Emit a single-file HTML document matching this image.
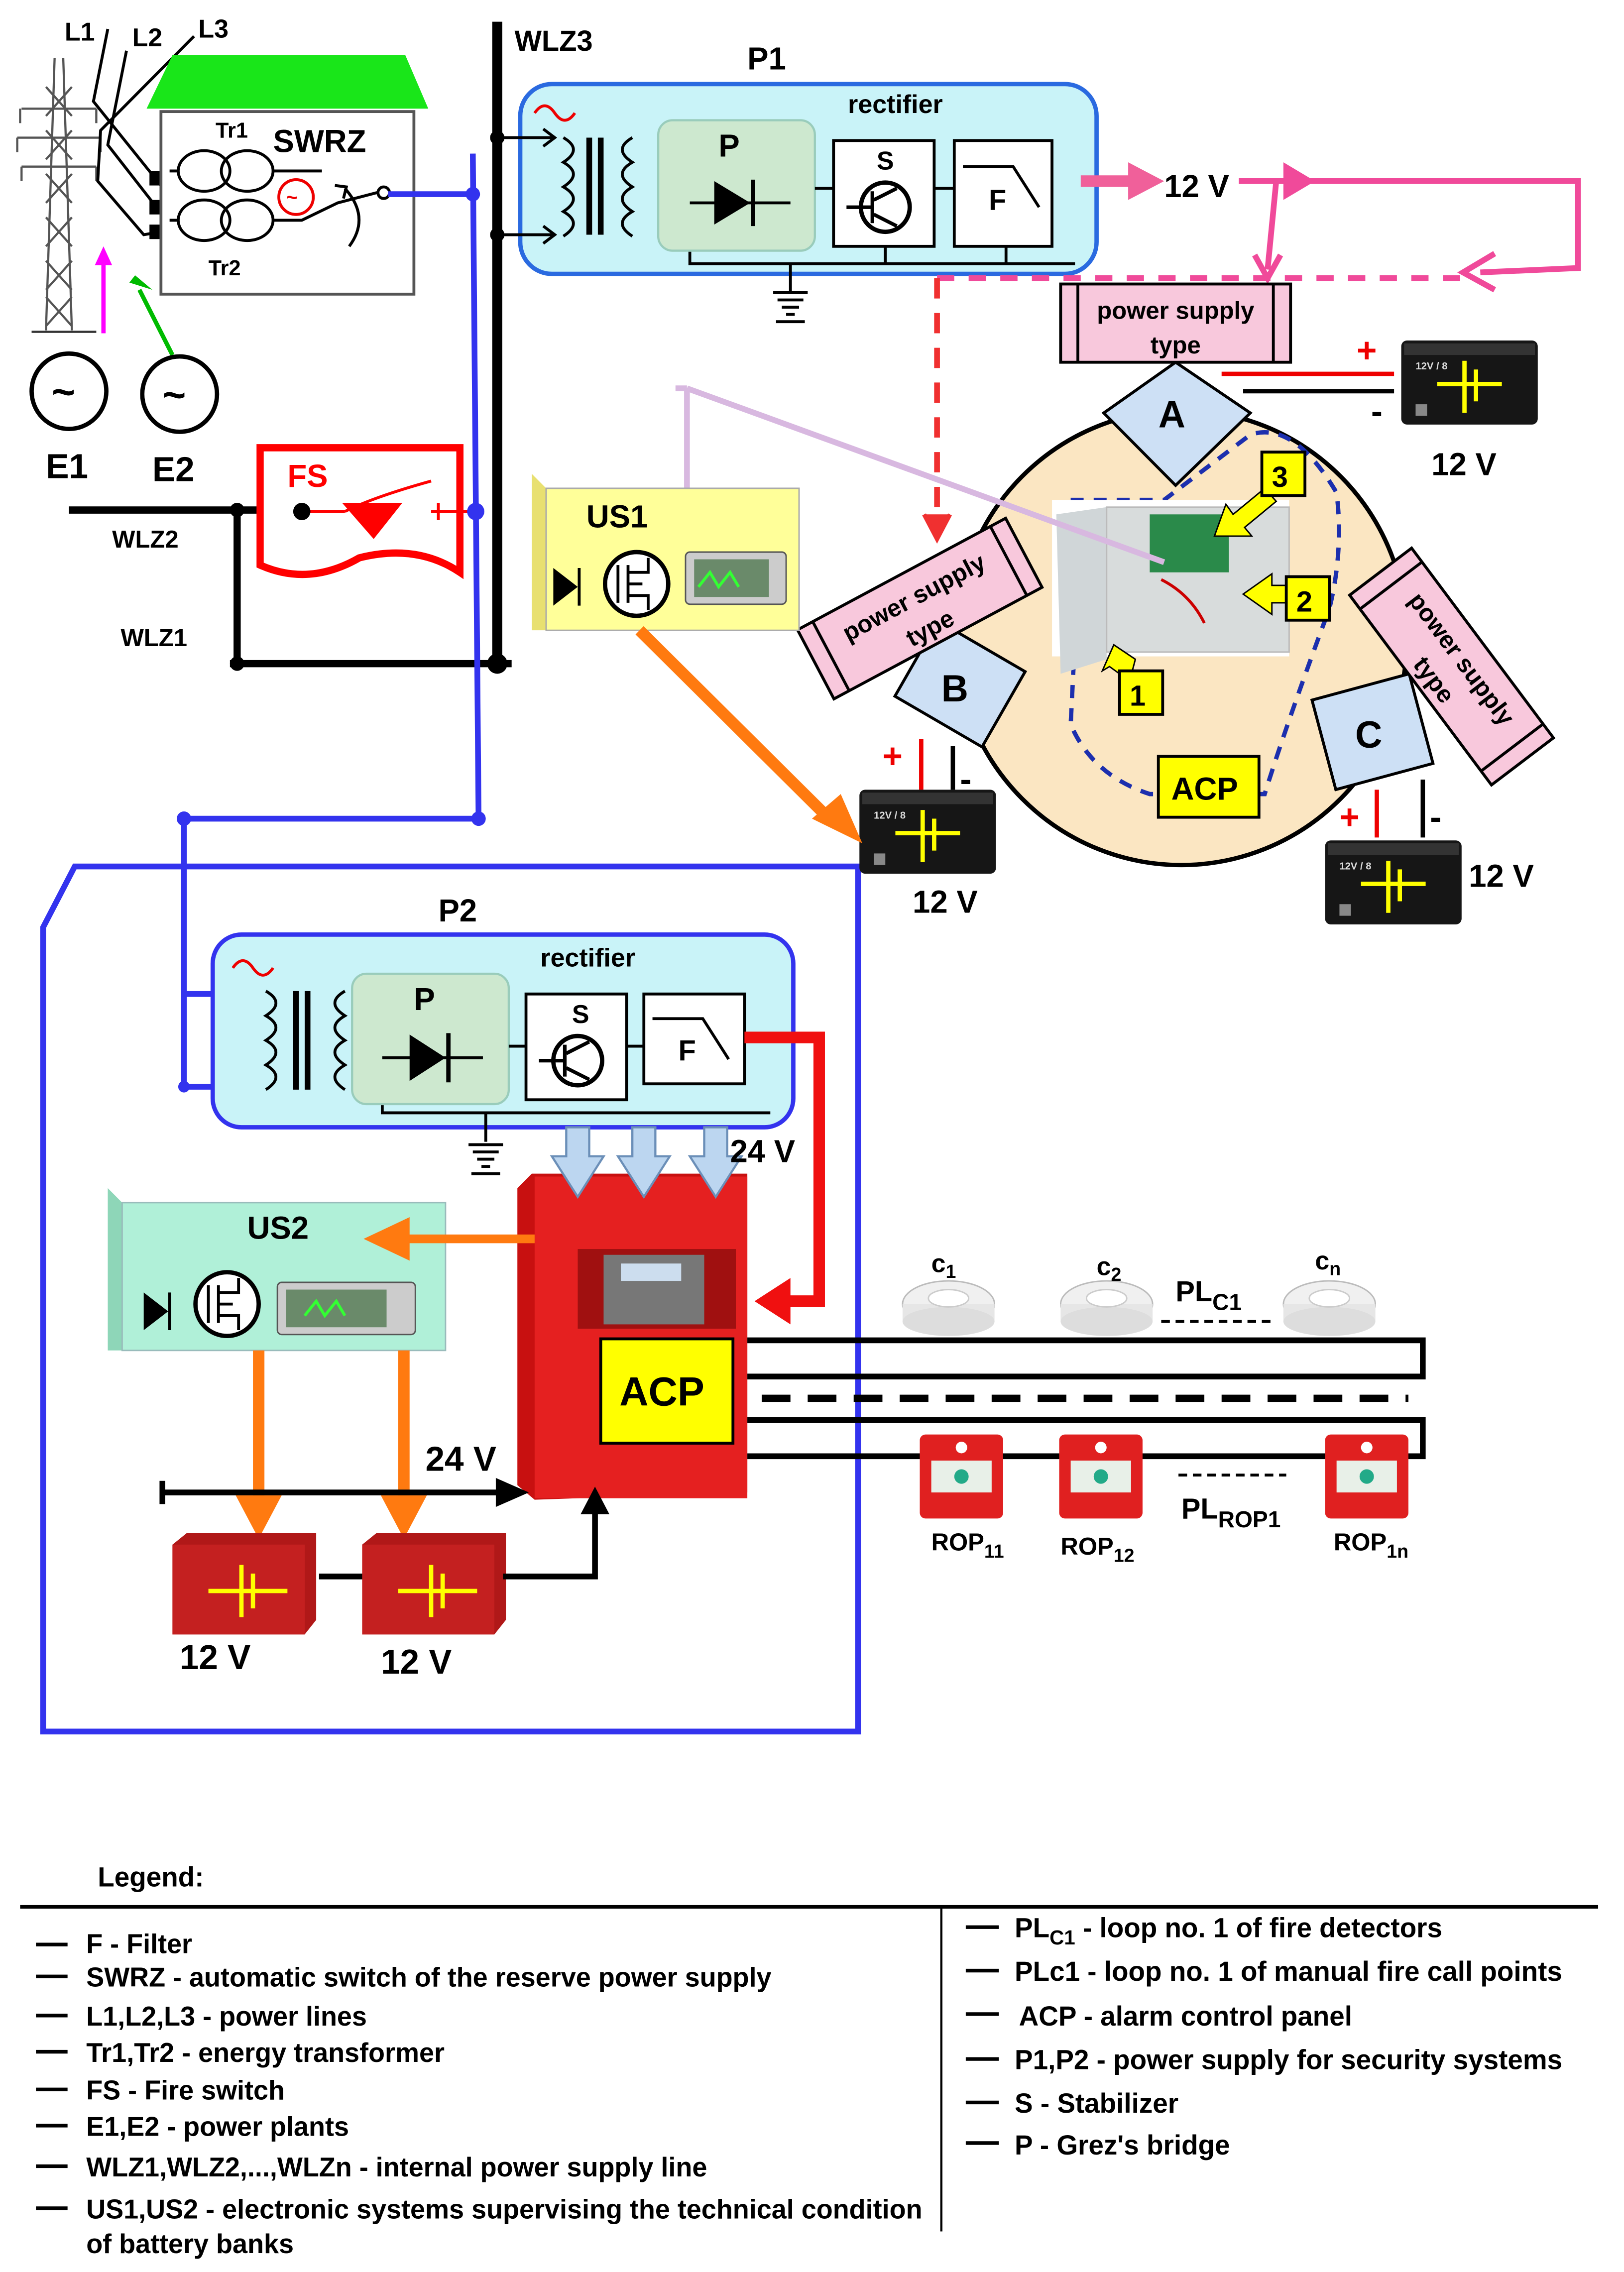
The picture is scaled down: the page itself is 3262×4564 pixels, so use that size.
<!DOCTYPE html>
<html><head><meta charset="utf-8"><style>
html,body{margin:0;padding:0;background:#fff}
svg{display:block}
text{font-family:"Liberation Sans",sans-serif;font-weight:bold}
</style></head><body>
<svg width="3262" height="4564" viewBox="0 0 1130 1568" preserveAspectRatio="none" xmlns="http://www.w3.org/2000/svg">
<defs>
<marker id="ab" markerWidth="8" markerHeight="8" refX="7" refY="4" orient="auto" markerUnits="userSpaceOnUse"><path d="M0,0 L8,4 L0,8" fill="none" stroke="#000" stroke-width="1.5"/></marker>
<g id="batt">
<rect x="0" y="0" width="95" height="58" rx="4" fill="#161616"/>
<rect x="2" y="2" width="91" height="8" fill="#333"/>
<line x1="25" y1="30" x2="70" y2="30" stroke="#ff0" stroke-width="3"/>
<line x1="44" y1="14" x2="44" y2="50" stroke="#ff0" stroke-width="3"/>
<line x1="52" y1="20" x2="52" y2="42" stroke="#ff0" stroke-width="3"/>
<text x="10" y="20" font-size="7" fill="#ddd">12V / 8</text>
<rect x="10" y="44" width="8" height="8" fill="#888"/>
</g>
<g id="rbatt">
<path d="M0,8 L10,0 L100,0 L100,60 L92,70 L0,70 Z" fill="#b01818"/>
<rect x="0" y="8" width="92" height="62" fill="#c42020"/>
<line x1="25" y1="40" x2="80" y2="40" stroke="#ff0" stroke-width="3"/>
<line x1="48" y1="22" x2="48" y2="58" stroke="#ff0" stroke-width="3"/>
<line x1="56" y1="28" x2="56" y2="52" stroke="#ff0" stroke-width="3"/>
</g>
<g id="det">
<ellipse cx="0" cy="0" rx="32" ry="16" fill="#f0f0f0" stroke="#bbb"/>
<rect x="-32" y="0" width="64" height="12" fill="#e6e6e6"/>
<ellipse cx="0" cy="12" rx="32" ry="10" fill="#ddd"/>
<ellipse cx="0" cy="-4" rx="14" ry="6" fill="#fff" stroke="#ccc"/>
</g>
<g id="rop">
<rect x="0" y="0" width="58" height="58" rx="4" fill="#e02020"/>
<rect x="8" y="18" width="42" height="22" fill="#e8f0e8"/>
<circle cx="29" cy="29" r="5" fill="#2a8"/>
<circle cx="29" cy="9" r="4" fill="#fff"/>
</g>
</defs>

<!-- pylon -->
<g stroke="#555" stroke-width="1.5" fill="none">
<line x1="38" y1="40" x2="32" y2="228"/><line x1="44" y1="40" x2="50" y2="228"/>
<path d="M32,60 L50,80 M50,60 L32,80 M32,90 L50,110 M50,90 L32,110 M32,120 L50,140 M50,120 L32,140 M32,150 L50,170 M50,150 L32,170 M32,180 L50,200 M50,180 L32,200 M32,205 L50,225 M50,205 L32,225"/>
<path d="M15,75 L67,75 M12,95 L70,95 M15,115 L67,115"/>
<path d="M14,75 v10 M67,75 v10 M12,95 v10 M70,95 v10 M15,115 v10 M67,115 v10"/>
<line x1="22" y1="229" x2="67" y2="229" stroke="#333"/>
</g>
<g stroke="#000" stroke-width="2" fill="none">
<path d="M75,20 L65,70 L112,128"/>
<path d="M88,35 L75,100 L112,147"/>
<path d="M135,25 L70,90 L68,125 L100,162 L112,160"/>
</g>
<rect x="104" y="118" width="8" height="10" fill="#000"/>
<rect x="104" y="138" width="8" height="10" fill="#000"/>
<rect x="104" y="155" width="8" height="10" fill="#000"/>
<text x="45" y="28" font-size="18" font-weight="normal">L1</text>
<text x="92" y="32" font-size="18" font-weight="normal">L2</text>
<text x="138" y="26" font-size="18" font-weight="normal">L3</text>
<path d="M102,75 L120,38 L282,38 L298,75 Z" fill="#19e619"/>
<rect x="112" y="77" width="176" height="126" fill="#fff" stroke="#555" stroke-width="2"/>
<g stroke="#000" stroke-width="2" fill="none">
<ellipse cx="142" cy="118" rx="18" ry="14"/><ellipse cx="172" cy="118" rx="18" ry="14"/>
<ellipse cx="142" cy="152" rx="18" ry="14"/><ellipse cx="172" cy="152" rx="18" ry="14"/>
<path d="M118,118 h6 M118,152 h6 M190,118 h34 M190,152 h20 L235,140 L262,133 h10"/>
<path d="M243,170 Q258,150 240,130" /><path d="M233,128 l8,1 l-2,8"/>
</g>
<circle cx="267" cy="133" r="4" fill="#fff" stroke="#000" stroke-width="2"/>
<circle cx="206" cy="136" r="12" fill="none" stroke="#e00" stroke-width="2"/>
<text x="199" y="141" font-size="14" fill="#e00">~</text>
<text x="150" y="95" font-size="15" font-weight="normal">Tr1</text>
<text x="145" y="190" font-size="15" font-weight="normal">Tr2</text>
<text x="190" y="105" font-size="22">SWRZ</text>
<path d="M72,230 L72,178" stroke="#f0f" stroke-width="3"/>
<path d="M66,183 L72,170 L78,183 Z" fill="#f0f"/>
<line x1="120" y1="245" x2="97" y2="200" stroke="#0b0" stroke-width="3"/>
<path d="M90,195 L94,190 L106,200 Z" fill="#0b0"/>
<circle cx="48" cy="270" r="26" fill="#fff" stroke="#000" stroke-width="3"/>
<circle cx="125" cy="272" r="26" fill="#fff" stroke="#000" stroke-width="3"/>
<text x="36" y="280" font-size="28" font-weight="normal">~</text>
<text x="113" y="282" font-size="28" font-weight="normal">~</text>
<text x="32" y="330" font-size="24">E1</text>
<text x="106" y="332" font-size="24">E2</text>
<line x1="48" y1="352" x2="210" y2="352" stroke="#000" stroke-width="5"/>
<line x1="165" y1="352" x2="165" y2="460" stroke="#000" stroke-width="5"/>
<line x1="160" y1="458" x2="356" y2="458" stroke="#000" stroke-width="5"/>
<circle cx="165" cy="352" r="5"/><circle cx="165" cy="458" r="5"/><circle cx="346" cy="458" r="7"/>
<text x="78" y="378" font-size="17">WLZ2</text>
<text x="84" y="446" font-size="17">WLZ1</text>
<line x1="346" y1="15" x2="346" y2="462" stroke="#000" stroke-width="7"/>
<text x="358" y="35" font-size="20">WLZ3</text>
<path d="M181,309 L320,309 L320,395 Q290,375 250,385 Q215,405 181,390 Z" fill="#fff" stroke="#f00" stroke-width="5"/>
<line x1="210" y1="353" x2="240" y2="353" stroke="#f00" stroke-width="2"/>
<circle cx="210" cy="353" r="6"/>
<path d="M238,347 L280,347 L260,372 Z" fill="#f00"/>
<path d="M240,353 Q260,343 300,332" stroke="#f00" stroke-width="2" fill="none"/>
<path d="M300,353 h30 M305,347 v12" stroke="#f00" stroke-width="2"/>
<text x="200" y="336" font-size="22" fill="#f00">FS</text>
<g stroke="#3333ee" stroke-width="4" fill="none">
<path d="M270,134 L330,134 M329,106 L333,565 L128,565 L128,750 L172,750 M128,686 L172,686"/>
<path d="M52,598 L597,598 L597,1195 L30,1195 L30,640 Z"/>
</g>
<circle cx="329" cy="134" r="5" fill="#3333ee"/><circle cx="331" cy="353" r="6" fill="#3333ee"/><circle cx="333" cy="565" r="5" fill="#3333ee"/><circle cx="128" cy="565" r="5" fill="#3333ee"/><circle cx="128" cy="750" r="4" fill="#3333ee"/>
<path d="M165,681 l8,5 l-8,5 M165,745 l8,5 l-8,5" stroke="#3333ee" stroke-width="2" fill="none"/>

<!-- P1 -->
<rect x="362" y="58" width="401" height="131" rx="22" fill="#c9f3f8" stroke="#2a6ae0" stroke-width="3"/>
<text x="520" y="48" font-size="22">P1</text>
<text x="590" y="78" font-size="18">rectifier</text>
<path d="M372,78 q7,-10 14,0 q7,10 14,0" stroke="#e00" stroke-width="2" fill="none"/>
<g stroke="#000" stroke-width="2" fill="none">
<path d="M346,95 L385,95 M346,162 L385,162"/>
<path d="M378,89 l8,6 l-8,6 M378,156 l8,6 l-8,6"/>
<path d="M392,95 q14,8 0,17 q14,8 0,17 q14,8 0,17 q14,8 0,17"/>
<path d="M440,95 q-14,8 0,17 q-14,8 0,17 q-14,8 0,17 q-14,8 0,17"/>
<path d="M480,172 v10 h268 M550,182 v20"/>
<path d="M538,202 h24 M541,207 h18 M544,212 h12 M547,217 h6 M540,222 h20"/>
</g>
<line x1="410" y1="95" x2="410" y2="162" stroke="#000" stroke-width="4"/><line x1="418" y1="95" x2="418" y2="162" stroke="#000" stroke-width="4"/>
<circle cx="346" cy="95" r="5"/><circle cx="346" cy="162" r="5"/>
<rect x="458" y="83" width="109" height="90" rx="10" fill="#cde8cf" stroke="#9cb" stroke-width="1.5"/>
<text x="500" y="108" font-size="22">P</text>
<path d="M480,140 h70" stroke="#000" stroke-width="2"/>
<path d="M497,125 L522,140 L497,155 Z" fill="#000"/><line x1="524" y1="124" x2="524" y2="156" stroke="#000" stroke-width="3"/>
<line x1="567" y1="130" x2="580" y2="130" stroke="#000" stroke-width="2"/>
<rect x="580" y="97" width="70" height="73" fill="#fff" stroke="#000" stroke-width="2"/>
<text x="610" y="117" font-size="18">S</text>
<circle cx="616" cy="143" r="17" fill="#fff" stroke="#000" stroke-width="3"/>
<path d="M607,132 v22 M607,143 h-18 M608,138 l16,-8 M608,148 l16,8" stroke="#000" stroke-width="2.5" fill="none"/>
<line x1="650" y1="130" x2="664" y2="130" stroke="#000" stroke-width="2"/>
<rect x="664" y="97" width="68" height="73" fill="#fff" stroke="#000" stroke-width="2"/>
<path d="M670,115 h35 l18,28" stroke="#000" stroke-width="2" fill="none"/>
<text x="688" y="145" font-size="20">F</text>
<path d="M616,170 v12 M700,170 v12" stroke="#000" stroke-width="2"/>
<line x1="752" y1="125" x2="790" y2="125" stroke="#f0609a" stroke-width="8"/>
<path d="M785,112 L810,125 L785,138 Z" fill="#f0609a"/>
<text x="810" y="136" font-size="22">12 V</text>
<g stroke="#f04a9a" stroke-width="4" fill="none">
<path d="M862,125 L900,125 M900,125 L1098,125 L1098,185 L1030,188 M888,125 L882,186"/>
</g>
<path d="M893,112 L915,125 L893,138 Z" fill="#f04a9a"/>
<path d="M1040,175 L1018,188 L1040,200" stroke="#f04a9a" stroke-width="4" fill="none"/>
<path d="M873,176 L882,192 L891,176" stroke="#f04a9a" stroke-width="4" fill="none"/>
<line x1="652" y1="192" x2="1020" y2="192" stroke="#f04a9a" stroke-width="4" stroke-dasharray="12,10"/>
<line x1="652" y1="192" x2="652" y2="360" stroke="#f03030" stroke-width="4" stroke-dasharray="14,10"/>
<path d="M643,355 L652,372 L661,355" stroke="#f03030" stroke-width="3" fill="#f03030"/>

<!-- circle area -->
<circle cx="822" cy="440" r="157" fill="#fbe6c2" stroke="#000" stroke-width="3"/>
<path d="M745,345 L810,345 L870,300 Q900,290 930,340 Q935,380 925,420 Q895,500 880,548 L800,548 Q760,535 745,500 L748,440 L735,420 Z" fill="none" stroke="#1c2fae" stroke-width="3" stroke-dasharray="9,7"/>
<rect x="732" y="345" width="165" height="108" fill="#fff"/>
<path d="M735,355 L770,350 L770,455 L738,465 Z" fill="#d0d6d8"/>
<rect x="770" y="350" width="127" height="100" fill="#d8dcdc" stroke="#bbb"/>
<rect x="800" y="355" width="55" height="40" fill="#2a8a4a"/>
<path d="M808,400 q20,10 30,30" stroke="#c00" stroke-width="2" fill="none"/>
<line x1="478" y1="268" x2="810" y2="388" stroke="#d8b8e0" stroke-width="4"/>
<path d="M478,268 L478,345 M478,268 L470,268" stroke="#d8b8e0" stroke-width="4" fill="none"/>
<path d="M470,340 L478,350 L486,340" stroke="#b090c0" stroke-width="2" fill="#e8d0f0"/>
<path d="M790,455 l-15,-10 l-8,18 l5,-3 l14,10 z" fill="#ff0" stroke="#000"/>
<rect x="779" y="463" width="30" height="30" fill="#ff0" stroke="#000" stroke-width="2"/><text x="786" y="487" font-size="20">1</text>
<path d="M865,410 l20,-14 v8 h10 v12 h-10 v8 z" fill="#ff0" stroke="#000"/>
<rect x="895" y="398" width="30" height="30" fill="#ff0" stroke="#000" stroke-width="2"/><text x="902" y="422" font-size="20">2</text>
<path d="M845,370 l8,-22 l5,7 l22,-18 l8,9 l-22,18 l5,6 z" fill="#ff0" stroke="#000"/>
<rect x="878" y="312" width="30" height="30" fill="#ff0" stroke="#000" stroke-width="2"/><text x="885" y="336" font-size="20">3</text>
<rect x="806" y="522" width="70" height="42" fill="#ff0" stroke="#000" stroke-width="2"/><text x="815" y="552" font-size="22">ACP</text>
<path d="M818,250 L870,285 L818,335 L768,285 Z" fill="#cde0f5" stroke="#000" stroke-width="2"/>
<text x="806" y="295" font-size="26">A</text>
<g transform="translate(668,472) rotate(30)"><rect x="-35" y="-30" width="70" height="60" fill="#cde0f5" stroke="#000" stroke-width="2"/></g>
<text x="655" y="484" font-size="26">B</text>
<g transform="translate(955,505) rotate(-15)"><rect x="-35" y="-32" width="70" height="64" fill="#cde0f5" stroke="#000" stroke-width="2"/></g>
<text x="943" y="516" font-size="26">C</text>
<g transform="translate(818,223)"><rect x="-80" y="-27" width="160" height="54" fill="#f8c8dc" stroke="#000" stroke-width="2"/><path d="M-68,-27 v54 M68,-27 v54" stroke="#000" stroke-width="2"/><text x="0" y="-3" font-size="17" font-weight="normal" text-anchor="middle">power supply</text><text x="0" y="21" font-size="17" font-weight="normal" text-anchor="middle">type</text></g>
<g transform="translate(640,420) rotate(-28)"><rect x="-82" y="-27" width="164" height="54" fill="#f8c8dc" stroke="#000" stroke-width="2"/><path d="M-70,-27 v54 M70,-27 v54" stroke="#000" stroke-width="2"/><text x="0" y="-3" font-size="17" font-weight="normal" text-anchor="middle">power supply</text><text x="0" y="21" font-size="17" font-weight="normal" text-anchor="middle">type</text></g>
<g transform="translate(1010,460) rotate(53)"><rect x="-82" y="-27" width="164" height="54" fill="#f8c8dc" stroke="#000" stroke-width="2"/><path d="M-70,-27 v54 M70,-27 v54" stroke="#000" stroke-width="2"/><text x="0" y="-3" font-size="17" font-weight="normal" text-anchor="middle">power supply</text><text x="0" y="21" font-size="17" font-weight="normal" text-anchor="middle">type</text></g>
<path d="M850,258 L970,258" stroke="#e00" stroke-width="3"/><path d="M865,270 L970,270" stroke="#000" stroke-width="3"/>
<text x="944" y="250" font-size="24" fill="#e00">+</text><text x="954" y="292" font-size="24">-</text>
<use href="#batt" x="975" y="235"/>
<text x="996" y="328" font-size="22">12 V</text>
<path d="M641,510 v35" stroke="#e00" stroke-width="3"/><path d="M663,515 v30" stroke="#000" stroke-width="3"/>
<text x="614" y="530" font-size="24" fill="#e00">+</text><text x="668" y="546" font-size="24">-</text>
<use href="#batt" x="598" y="545"/>
<text x="635" y="630" font-size="22">12 V</text>
<path d="M958,545 v33" stroke="#e00" stroke-width="3"/><path d="M990,538 v40" stroke="#000" stroke-width="3"/>
<text x="932" y="572" font-size="24" fill="#e00">+</text><text x="995" y="572" font-size="24">-</text>
<use href="#batt" x="922" y="580"/>
<text x="1022" y="612" font-size="22">12 V</text>
<!-- US1 -->
<path d="M370,327 L380,337 L556,337 L556,435 L370,435 Z" fill="#e8e070"/>
<rect x="380" y="337" width="176" height="98" fill="#ffff99" stroke="#aaa"/>
<text x="408" y="364" font-size="22">US1</text>
<path d="M385,392 L402,405 L385,418 Z" fill="#000"/><line x1="403" y1="392" x2="403" y2="418" stroke="#000" stroke-width="2"/>
<circle cx="443" cy="403" r="22" fill="#fff" stroke="#000" stroke-width="3"/>
<path d="M430,390 v26 M437,390 v26 M437,395 h14 v-10 M437,411 h14 v10 M437,403 h10" stroke="#000" stroke-width="2" fill="none"/>
<rect x="477" y="381" width="70" height="36" rx="3" fill="#ccc" stroke="#555"/>
<rect x="483" y="386" width="52" height="26" fill="#6a8a6a"/>
<path d="M486,405 l8,-10 l6,10 l8,-10 l6,10" stroke="#3f3" stroke-width="2" fill="none"/>
<line x1="445" y1="435" x2="580" y2="568" stroke="#ff7a10" stroke-width="8"/>
<path d="M565,565 L600,582 L585,548 Z" fill="#ff7a10"/>

<!-- P2 -->
<rect x="148" y="645" width="404" height="133" rx="20" fill="#c9f3f8" stroke="#3333ee" stroke-width="3"/>
<text x="305" y="636" font-size="22">P2</text>
<text x="376" y="667" font-size="18">rectifier</text>
<path d="M162,668 q7,-10 14,0 q7,10 14,0" stroke="#e00" stroke-width="2" fill="none"/>
<g stroke="#000" stroke-width="2" fill="none">
<path d="M185,684 q14,8 0,17 q14,8 0,17 q14,8 0,17 q14,8 0,17"/>
<path d="M240,684 q-14,8 0,17 q-14,8 0,17 q-14,8 0,17 q-14,8 0,17"/>
<path d="M266,760 v8 h270 M338,768 v20"/>
<path d="M326,790 h24 M329,795 h18 M332,800 h12 M335,805 h6 M328,810 h20"/>
</g>
<line x1="206" y1="684" x2="206" y2="752" stroke="#000" stroke-width="4"/><line x1="214" y1="684" x2="214" y2="752" stroke="#000" stroke-width="4"/>
<rect x="245" y="672" width="109" height="90" rx="10" fill="#cde8cf" stroke="#9cb" stroke-width="1.5"/>
<text x="288" y="697" font-size="22">P</text>
<path d="M266,730 h70" stroke="#000" stroke-width="2"/>
<path d="M285,714 L310,730 L285,746 Z" fill="#000"/><line x1="312" y1="713" x2="312" y2="747" stroke="#000" stroke-width="3"/>
<line x1="354" y1="722" x2="366" y2="722" stroke="#000" stroke-width="2"/>
<rect x="366" y="686" width="70" height="73" fill="#fff" stroke="#000" stroke-width="2"/>
<text x="398" y="706" font-size="18">S</text>
<circle cx="402" cy="732" r="17" fill="#fff" stroke="#000" stroke-width="3"/>
<path d="M393,721 v22 M393,732 h-18 M394,727 l16,-8 M394,737 l16,8" stroke="#000" stroke-width="2.5" fill="none"/>
<line x1="436" y1="722" x2="448" y2="722" stroke="#000" stroke-width="2"/>
<rect x="448" y="686" width="70" height="62" fill="#fff" stroke="#000" stroke-width="2"/>
<path d="M454,703 h35 l18,28" stroke="#000" stroke-width="2" fill="none"/>
<text x="472" y="732" font-size="20">F</text>
<path d="M518,716 L570,716 L570,898 L545,898" stroke="#f01010" stroke-width="8" fill="none"/>
<path d="M550,882 L525,898 L550,914 Z" fill="#f01010"/>
<path d="M360,820 L370,810 L520,810 L520,1030 L372,1035 L360,1025 Z" fill="#c81010"/>
<rect x="372" y="812" width="148" height="222" fill="#e52020"/>
<rect x="402" y="862" width="110" height="55" fill="#a01010"/>
<rect x="420" y="866" width="70" height="48" fill="#777"/>
<rect x="432" y="872" width="42" height="12" fill="#cde"/>
<rect x="418" y="924" width="92" height="72" fill="#ff0" stroke="#000" stroke-width="2"/>
<text x="431" y="970" font-size="28">ACP</text>
<g fill="#bcd6f0" stroke="#6b8fb8" stroke-width="1.5">
<path d="M394,778 h16 v20 h10 l-18,28 l-18,-28 h10 z"/>
<path d="M440,778 h16 v20 h10 l-18,28 l-18,-28 h10 z"/>
<path d="M490,778 h16 v20 h10 l-18,28 l-18,-28 h10 z"/>
</g>
<text x="508" y="802" font-size="22">24 V</text>
<path d="M75,820 L85,830 L310,830 L310,932 L75,932 Z" fill="#8ed6b8"/>
<rect x="85" y="830" width="225" height="102" fill="#b0f0d8" stroke="#9bb"/>
<text x="172" y="855" font-size="22">US2</text>
<path d="M100,892 L117,905 L100,918 Z" fill="#000"/><line x1="118" y1="892" x2="118" y2="918" stroke="#000" stroke-width="2"/>
<circle cx="158" cy="900" r="22" fill="#fff" stroke="#000" stroke-width="3"/>
<path d="M145,887 v26 M152,887 v26 M152,892 h14 v-10 M152,908 h14 v10 M152,900 h10" stroke="#000" stroke-width="2" fill="none"/>
<rect x="193" y="885" width="96" height="36" rx="3" fill="#ccc" stroke="#555"/>
<rect x="199" y="890" width="70" height="26" fill="#6a8a6a"/>
<path d="M212,908 l8,-10 l6,10 l8,-10 l6,10" stroke="#3f3" stroke-width="2" fill="none"/>
<line x1="372" y1="855" x2="280" y2="855" stroke="#ff7a10" stroke-width="6"/>
<path d="M285,840 L253,855 L285,870 Z" fill="#ff7a10"/>
<line x1="180" y1="932" x2="180" y2="1040" stroke="#ff7a10" stroke-width="8"/>
<path d="M164,1032 L180,1062 L196,1032 Z" fill="#ff7a10"/>
<line x1="281" y1="932" x2="281" y2="1040" stroke="#ff7a10" stroke-width="8"/>
<path d="M265,1032 L281,1062 L297,1032 Z" fill="#ff7a10"/>
<path d="M113,1030 L355,1030" stroke="#000" stroke-width="4"/><line x1="113" y1="1022" x2="113" y2="1038" stroke="#000" stroke-width="4"/>
<path d="M345,1020 L368,1030 L345,1040 Z" fill="#000"/>
<text x="296" y="1015" font-size="24">24 V</text>
<use href="#rbatt" x="120" y="1058"/>
<use href="#rbatt" x="252" y="1058"/>
<line x1="222" y1="1088" x2="252" y2="1088" stroke="#000" stroke-width="4"/>
<path d="M350,1088 L414,1088 L414,1040" stroke="#000" stroke-width="4" fill="none"/>
<path d="M404,1045 L414,1026 L424,1045 Z" fill="#000"/>
<text x="125" y="1152" font-size="24">12 V</text>
<text x="265" y="1155" font-size="24">12 V</text>
<g stroke="#000" stroke-width="4" fill="none">
<path d="M520,925 L990,925 L990,950 L520,950"/>
<path d="M520,980 L990,980 L990,1005 L520,1005"/>
</g>
<line x1="530" y1="965" x2="980" y2="965" stroke="#000" stroke-width="5" stroke-dasharray="20,12"/>
<use href="#det" x="660" y="900"/><use href="#det" x="770" y="900"/><use href="#det" x="925" y="900"/>
<text x="648" y="878" font-size="18">c<tspan font-size="13" dy="4">1</tspan></text>
<text x="763" y="880" font-size="18">c<tspan font-size="13" dy="4">2</tspan></text>
<text x="915" y="876" font-size="18">c<tspan font-size="13" dy="4">n</tspan></text>
<text x="818" y="898" font-size="20" font-weight="normal">PL<tspan font-size="16" dy="6">C1</tspan></text>
<line x1="808" y1="912" x2="885" y2="912" stroke="#000" stroke-width="2" stroke-dasharray="6,4"/>
<use href="#rop" x="640" y="990"/><use href="#rop" x="737" y="990"/><use href="#rop" x="922" y="990"/>
<text x="648" y="1070" font-size="17">ROP<tspan font-size="13" dy="5">11</tspan></text>
<text x="738" y="1073" font-size="17">ROP<tspan font-size="13" dy="5">12</tspan></text>
<text x="928" y="1070" font-size="17">ROP<tspan font-size="13" dy="5">1n</tspan></text>
<line x1="820" y1="1018" x2="895" y2="1018" stroke="#000" stroke-width="2" stroke-dasharray="6,4"/>
<text x="822" y="1048" font-size="20" font-weight="normal">PL<tspan font-size="16" dy="6">ROP1</tspan></text>

<!-- Legend -->
<text x="68" y="1302" font-size="19" font-weight="normal">Legend:</text>
<line x1="14" y1="1316" x2="1112" y2="1316" stroke="#000" stroke-width="2.5"/>
<line x1="655" y1="1316" x2="655" y2="1540" stroke="#000" stroke-width="1.5"/>
<g stroke="#000" stroke-width="2.5">
<line x1="25" y1="1342" x2="47" y2="1342"/><line x1="25" y1="1364" x2="47" y2="1364"/><line x1="25" y1="1391" x2="47" y2="1391"/><line x1="25" y1="1416" x2="47" y2="1416"/><line x1="25" y1="1442" x2="47" y2="1442"/><line x1="25" y1="1467" x2="47" y2="1467"/><line x1="25" y1="1495" x2="47" y2="1495"/><line x1="25" y1="1524" x2="47" y2="1524"/>
<line x1="672" y1="1330" x2="695" y2="1330"/><line x1="672" y1="1360" x2="695" y2="1360"/><line x1="672" y1="1390" x2="695" y2="1390"/><line x1="672" y1="1421" x2="695" y2="1421"/><line x1="672" y1="1451" x2="695" y2="1451"/><line x1="672" y1="1479" x2="695" y2="1479"/>
</g>
<g font-size="18.7">
<text x="60" y="1348">F - Filter</text>
<text x="60" y="1371">SWRZ - automatic switch of the reserve power supply</text>
<text x="60" y="1398">L1,L2,L3 - power lines</text>
<text x="60" y="1423">Tr1,Tr2 - energy transformer</text>
<text x="60" y="1449">FS - Fire switch</text>
<text x="60" y="1474">E1,E2 - power plants</text>
<text x="60" y="1502">WLZ1,WLZ2,...,WLZn - internal power supply line</text>
<text x="60" y="1531">US1,US2 - electronic systems supervising the technical condition</text>
<text x="60" y="1555">of battery banks</text>
</g>
<g font-size="19">
<text x="706" y="1337">PL<tspan font-size="14" dy="5">C1</tspan><tspan dy="-5"> - loop no. 1 of fire detectors</tspan></text>
<text x="706" y="1367">PLc1 - loop no. 1 of manual fire call points</text>
<text x="709" y="1398">ACP - alarm control panel</text>
<text x="706" y="1428">P1,P2 - power supply for security systems</text>
<text x="706" y="1458">S - Stabilizer</text>
<text x="706" y="1487">P - Grez's bridge</text>
</g>
</svg>
</body></html>
